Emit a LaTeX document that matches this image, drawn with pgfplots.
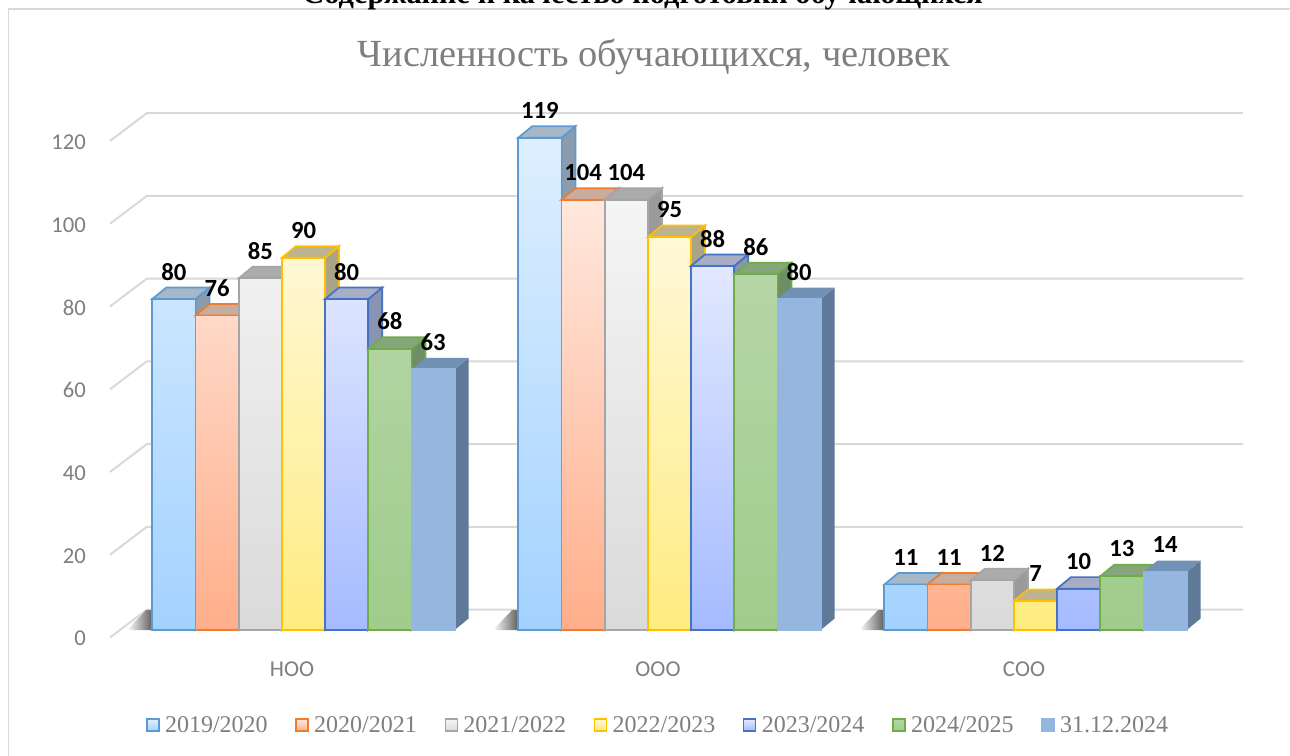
\documentclass[border=0pt]{standalone}
\usepackage{pgfplots}
\pgfplotsset{compat=1.18}
\usepackage{fontspec}
\setmainfont{Carlito}
\newfontfamily\lserif{Liberation Serif}
\definecolor{gridc}{HTML}{D9D9D9}
\definecolor{tickc}{HTML}{7F7F7F}
\definecolor{la}{HTML}{5B9BD5}\definecolor{ta}{HTML}{DEEFFF}\definecolor{ba}{HTML}{A3D2FF}\definecolor{ua}{HTML}{A6B8C8}\definecolor{sa}{HTML}{8A9CAE}
\definecolor{lb}{HTML}{ED7D31}\definecolor{tb}{HTML}{FFE8DE}\definecolor{bb}{HTML}{FFAE8A}\definecolor{ub}{HTML}{C8AC9E}\definecolor{sb}{HTML}{A8968C}
\definecolor{lc}{HTML}{A5A5A5}\definecolor{tc}{HTML}{F5F5F5}\definecolor{bc}{HTML}{DADADA}\definecolor{uc}{HTML}{ABABAB}\definecolor{sc}{HTML}{9A9A9A}
\definecolor{ld}{HTML}{FFC000}\definecolor{td}{HTML}{FFF8D8}\definecolor{bd}{HTML}{FFEC80}\definecolor{ud}{HTML}{BDB48F}\definecolor{sd}{HTML}{A9A488}
\definecolor{le}{HTML}{4472C4}\definecolor{te}{HTML}{E2E8FF}\definecolor{be}{HTML}{A5BBFF}\definecolor{ue}{HTML}{A7ADC5}\definecolor{se}{HTML}{8A94B0}
\definecolor{lf}{HTML}{70AD47}\definecolor{tf}{HTML}{B5D6A6}\definecolor{bf}{HTML}{A0CC8C}\definecolor{uf}{HTML}{85A57A}\definecolor{sf}{HTML}{6E8F65}
\definecolor{lg}{HTML}{95B6DF}\definecolor{ug}{HTML}{7191B5}\definecolor{sg}{HTML}{5F7A98}
% one box's top and side: series k (0-6), group g, value v, top colour, side colour, line options
\newcommand\cube[6]{%
 \pgfmathsetmacro\xa{#2+(11.5+(#1-3)*43.2-21.6)/366}%
 \pgfmathsetmacro\xb{\xa+43.2/366}%
 \pgfmathsetmacro\xc{\xa+14/366}%
 \pgfmathsetmacro\xd{\xb+14/366}%
 \pgfmathsetmacro\yt{#3+2.78}%
 \edef\tmp{\noexpand\addplot[forget plot,fill=#5,#6] coordinates {(\xb,0) (\xd,2.78) (\xd,\yt) (\xb,#3)} -- cycle;
 \noexpand\addplot[forget plot,fill=#4,#6] coordinates {(\xa,#3) (\xc,\yt) (\xd,\yt) (\xb,#3)} -- cycle;}\tmp}
\newcommand\gridlv[1]{%
 \pgfmathsetmacro\ya{#1+4.955}%
 \pgfmathsetmacro\yb{#1-1.81}%
 \edef\tmp{\noexpand\addplot[forget plot,gridc,line width=1.5pt] coordinates {(-0.49727,\yb) (-0.39617,\ya) (2.59836,\ya)};}\tmp}
\newcommand\shadow[1]{%
 \pgfmathsetmacro\xa{#1-165/366}%
 \pgfmathsetmacro\xb{#1-146/366}%
 \pgfmathsetmacro\xc{#1-139/366}%
 \edef\tmp{\noexpand\addplot[forget plot,draw=none,left color=white,right color=black!65] coordinates {(\xa,0) (\xb,4.8) (\xc,4.8) (\xc,0)} -- cycle;}\tmp}
\pgfplotsset{
 series/.style n args={4}{ybar,bar width=32.4pt,bar shift=#1,shade,top color=#2,bottom color=#3,draw=#4,line width=1.4pt,
   nodes near coords,nodes near coords style={xshift=#1},
   legend image code/.code={\draw[draw=#4,top color=#2,bottom color=#3,line width=1.1pt] (0pt,-4.6pt) rectangle (9pt,4.4pt);}},
}
\begin{document}
\begin{tikzpicture}
\path[use as bounding box] (0,0) rectangle (967.5pt,-567pt);
\fill[white] (0,0) rectangle (967.5pt,-567pt);
\draw[gridc,line width=1.2pt] (6.4pt,-567pt) -- (6.4pt,-6.6pt) -- (967.5pt,-6.6pt);
\node[font=\lserif\bfseries\fontsize{22.8}{26}\selectfont,text=black,anchor=base] at (482pt,-2.6pt) {Содержание и качество подготовки обучающихся};
\node[font=\lserif\fontsize{28.8}{34}\selectfont,text=tickc] at (490.5pt,-42.5pt) {Численность обучающихся, человек};
\begin{axis}[
 at={(82.5pt,-472.5pt)},anchor=south west,
 scale only axis,width=851.25pt,height=427.5pt,
 xmin=-0.49727,xmax=2.60383,ymin=0,ymax=137.77,
 clip=false,
 axis line style={draw=none},
 tick style={draw=none},
 xtick={0,1,2},xticklabels={НОО,ООО,СОО},
 ytick={0,20,...,120},
 /pgf/number format/assume math mode=true,
 /pgf/number format/1000 sep={},
 tick label style={font=\fontsize{17}{20}\selectfont,text=tickc},
 yticklabel style={xshift=-14.5pt,yshift=-6.5pt},
 xticklabel style={yshift=-20.5pt},
 legend columns=7,
 legend style={at={(rel axis cs:0.4833,-0.1667)},anchor=center,draw=none,fill=none,
   font=\lserif\fontsize{18}{20}\selectfont,text=tickc,
   /tikz/every even column/.append style={column sep=18.8pt},
   /tikz/every odd column/.append style={column sep=2pt}},
 nodes near coords style={font=\bfseries\fontsize{18.5}{20}\selectfont,text=black,anchor=center,yshift=20.5pt},
]
\gridlv{0}\gridlv{20}\gridlv{40}\gridlv{60}\gridlv{80}\gridlv{100}\gridlv{120}
\shadow{0}\shadow{1}\shadow{2}

\cube{0}{0}{80}{ua}{sa}{draw=la,line width=1.3pt}\cube{0}{1}{119}{ua}{sa}{draw=la,line width=1.3pt}\cube{0}{2}{11}{ua}{sa}{draw=la,line width=1.3pt}
\addplot[series={-88.575pt}{ta}{ba}{la}] coordinates {(0,80) (1,119) (2,11)};
\addlegendentry{2019/2020}

\cube{1}{0}{76}{ub}{sb}{draw=lb,line width=1.3pt}\cube{1}{1}{104}{ub}{sb}{draw=lb,line width=1.3pt}\cube{1}{2}{11}{ub}{sb}{draw=lb,line width=1.3pt}
\addplot[series={-56.175pt}{tb}{bb}{lb}] coordinates {(0,76) (1,104) (2,11)};
\addlegendentry{2020/2021}

\cube{2}{0}{85}{uc}{sc}{draw=lc,line width=1.3pt}\cube{2}{1}{104}{uc}{sc}{draw=lc,line width=1.3pt}\cube{2}{2}{12}{uc}{sc}{draw=lc,line width=1.3pt}
\addplot[series={-23.775pt}{tc}{bc}{lc}] coordinates {(0,85) (1,104) (2,12)};
\addlegendentry{2021/2022}

\cube{3}{0}{90}{ud}{sd}{draw=ld,line width=1.3pt}\cube{3}{1}{95}{ud}{sd}{draw=ld,line width=1.3pt}\cube{3}{2}{7}{ud}{sd}{draw=ld,line width=1.3pt}
\addplot[series={8.625pt}{td}{bd}{ld}] coordinates {(0,90) (1,95) (2,7)};
\addlegendentry{2022/2023}

\cube{4}{0}{80}{ue}{se}{draw=le,line width=1.3pt}\cube{4}{1}{88}{ue}{se}{draw=le,line width=1.3pt}\cube{4}{2}{10}{ue}{se}{draw=le,line width=1.3pt}
\addplot[series={41.025pt}{te}{be}{le}] coordinates {(0,80) (1,88) (2,10)};
\addlegendentry{2023/2024}

\cube{5}{0}{68}{uf}{sf}{draw=lf,line width=1.3pt}\cube{5}{1}{86}{uf}{sf}{draw=lf,line width=1.3pt}\cube{5}{2}{13}{uf}{sf}{draw=lf,line width=1.3pt}
\addplot[series={73.425pt}{tf}{bf}{lf}] coordinates {(0,68) (1,86) (2,13)};
\addlegendentry{2024/2025}

\cube{6}{0}{63}{ug}{sg}{draw=none}\cube{6}{1}{80}{ug}{sg}{draw=none}\cube{6}{2}{14}{ug}{sg}{draw=none}
\addplot[series={105.825pt}{lg}{lg}{lg}] coordinates {(0,63) (1,80) (2,14)};
\addlegendentry{31.12.2024}
\end{axis}
\end{tikzpicture}
\end{document}
